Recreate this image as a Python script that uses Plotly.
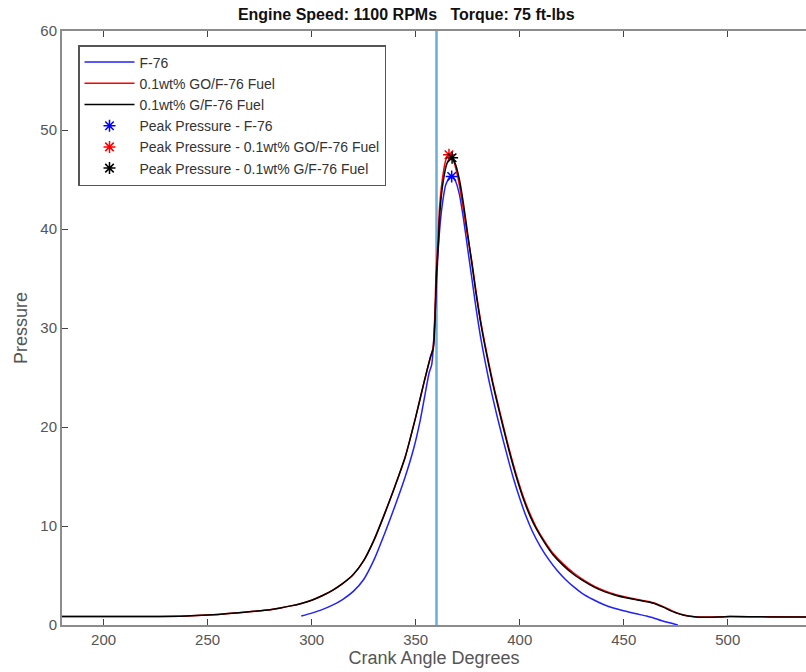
import plotly.graph_objects as go

# ---- data ----
crank_gf = [180, 200, 220, 240, 250, 260, 270, 280, 285, 290, 295, 300, 305, 310, 315, 320, 325,
            330, 335, 340, 345, 350, 354, 357, 358.5, 360, 360.9, 361.6, 363, 365, 367, 369,
            371, 373, 375, 377, 379, 381, 383, 385, 387, 389, 392, 395, 398.6, 402, 405, 408,
            412, 416, 421, 426, 431, 436, 441, 446, 451, 456, 461, 465, 469, 473, 477, 481,
            485, 490, 495, 501, 510, 520, 537.6]
press_gf = [0.85, 0.85, 0.85, 0.9, 1.0, 1.15, 1.35, 1.55, 1.72, 1.93, 2.18, 2.5, 2.95, 3.5, 4.2, 5.1, 6.5,
            8.6, 11.2, 14.0, 17.0, 21.0, 24.5, 27.0, 28.0, 35.5, 38.5, 41.6, 44.5, 46.6, 47.2, 46.6,
            45.0, 42.5, 39.5, 36.5, 33.5, 30.8, 28.5, 26.4, 24.4, 22.6, 20.0, 17.5, 14.8, 12.6, 11.0, 9.7,
            8.3, 7.1, 6.0, 5.1, 4.4, 3.8, 3.35, 3.0, 2.75, 2.55, 2.35, 2.15, 1.8, 1.4, 1.1, 0.9,
            0.8, 0.78, 0.8, 0.85, 0.83, 0.82, 0.8]

crank_go = [180, 200, 220, 240, 250, 260, 270, 280, 285, 290, 295, 300, 305, 310, 315, 320, 325,
            330, 335, 340, 345, 350, 354, 357, 358.4, 359.8, 360.7, 361.4, 362.8, 364.5, 366, 368,
            370, 372, 374.5, 377, 379, 381, 383, 385, 387, 389, 392, 395, 398.6, 402, 405, 408,
            412, 416, 421, 426, 431, 436, 441, 446, 451, 456, 461, 465, 469, 473, 477, 481,
            485, 490, 495, 501, 510, 520, 537.6]
press_go = [0.85, 0.85, 0.85, 0.9, 1.0, 1.15, 1.35, 1.55, 1.72, 1.93, 2.18, 2.5, 2.95, 3.5, 4.2, 5.1, 6.5,
            8.6, 11.2, 14.0, 17.0, 21.0, 24.5, 27.0, 28.1, 35.5, 38.8, 42.0, 45.0, 47.0, 47.6, 47.0,
            45.5, 43.2, 39.8, 36.7, 33.7, 31.0, 28.7, 26.6, 24.6, 22.8, 20.2, 17.7, 15.0, 12.8, 11.2, 9.85,
            8.45, 7.25, 6.15, 5.25, 4.5, 3.9, 3.45, 3.08, 2.82, 2.6, 2.4, 2.2, 1.85, 1.45, 1.12, 0.92,
            0.82, 0.8, 0.82, 0.86, 0.84, 0.83, 0.8]

crank_f76 = [295, 300, 305, 310, 315, 320, 325, 330, 335, 340, 345, 349, 352, 354.5, 356.5, 357.7,
             359, 360, 361, 362.5, 364.5, 367, 369, 371, 373, 375, 377, 379, 381, 383, 385, 387, 389,
             392, 395, 397, 400, 403, 406, 410, 414, 418, 422, 426, 430, 435, 440, 445, 451, 456,
             461, 465, 468, 472, 476]
press_f76 = [0.9, 1.2, 1.55, 2.0, 2.6, 3.4, 4.6, 6.6, 9.2, 12.0, 15.0, 17.8, 20.5, 23.3, 25.5, 26.3,
             30.0, 34.5, 38.5, 42.0, 44.5, 45.4, 44.9, 43.5, 41.0, 38.0, 35.0, 32.0, 29.3, 27.0, 24.9, 23.0,
             21.2, 18.7, 16.3, 14.8, 12.8, 11.0, 9.5, 7.9, 6.6, 5.5, 4.6, 3.85, 3.2, 2.6, 2.1, 1.72, 1.38,
             1.13, 0.9, 0.66, 0.46, 0.22, 0.0]

peak_f76 = (367.3, 45.3)
peak_go = (366.0, 47.5)
peak_gf = (367.5, 47.2)

tdc_angle = 360
x_ticks = [200, 250, 300, 350, 400, 450, 500]
y_ticks = [0, 10, 20, 30, 40, 50, 60]

FONT = "Liberation Sans, Arial, Helvetica, sans-serif"
SPL = dict(shape="spline", smoothing=0.7)

fig = go.Figure()
fig.add_trace(go.Scatter(x=crank_f76, y=press_f76, mode="lines", name="F-76",
                         line=dict(color="#2020ff", width=1.5, **SPL)))
fig.add_trace(go.Scatter(x=crank_go, y=press_go, mode="lines", name="0.1wt% GO/F-76 Fuel",
                         line=dict(color="#ff0000", width=1.5, **SPL)))
fig.add_trace(go.Scatter(x=crank_gf, y=press_gf, mode="lines", name="0.1wt% G/F-76 Fuel",
                         line=dict(color="#000000", width=1.5, **SPL)))
for pk, nm, col in [(peak_f76, "Peak Pressure - F-76", "#0000ff"),
                    (peak_go, "Peak Pressure - 0.1wt% GO/F-76 Fuel", "#ff0000"),
                    (peak_gf, "Peak Pressure - 0.1wt% G/F-76 Fuel", "#000000")]:
    fig.add_trace(go.Scatter(x=[pk[0]], y=[pk[1]], mode="markers", name=nm,
                             marker=dict(symbol="asterisk-open", size=10, color=col,
                                         line=dict(color=col, width=1.5))))

fig.add_vline(x=tdc_angle, line=dict(color="#6aaed6", width=2.5), layer="below")

fig.update_layout(
    width=806, height=672,
    margin=dict(l=62, r=0, t=31, b=47, autoexpand=False),
    paper_bgcolor="white", plot_bgcolor="white",
    font=dict(family=FONT, size=12, color="#444444"),
    title=dict(text="<b>Engine Speed: 1100 RPMs   Torque: 75 ft-lbs</b>",
               x=0.504, xanchor="center", y=1 - 14 / 672, yanchor="middle",
               font=dict(family=FONT, size=16, color="#111111")),
    showlegend=True,
    legend=dict(x=(78 - 62) / 744, y=1 - (45 - 31) / 594, xanchor="left", yanchor="top",
                bgcolor="white", bordercolor="#555555", borderwidth=1.5,
                font=dict(family=FONT, size=14, color="#333333"),
                tracegroupgap=0, itemwidth=50),
    xaxis=dict(range=[180, 537.6], tickvals=x_ticks, ticks="inside", ticklen=6,
               tickcolor="#444444", showline=True, linecolor="#8c8c8c", linewidth=2,
               mirror="ticks", showgrid=False, zeroline=False, automargin=False,
               tickfont=dict(size=15, color="#555555"),
               title=dict(text="Crank Angle Degrees", standoff=0,
                          font=dict(size=18, color="#555555"))),
    yaxis=dict(range=[0, 60], tickvals=y_ticks, ticks="inside", ticklen=6,
               tickcolor="#444444", showline=True, linecolor="#8c8c8c", linewidth=2,
               mirror=False, showgrid=False, zeroline=False, automargin=False,
               tickfont=dict(size=15, color="#555555"),
               title=dict(text="Pressure", standoff=8,
                          font=dict(size=18, color="#555555"))),
)

fig.write_html("out.html", config={"displayModeBar": False},
               post_script="document.body.style.margin='0';document.body.style.padding='0';")
